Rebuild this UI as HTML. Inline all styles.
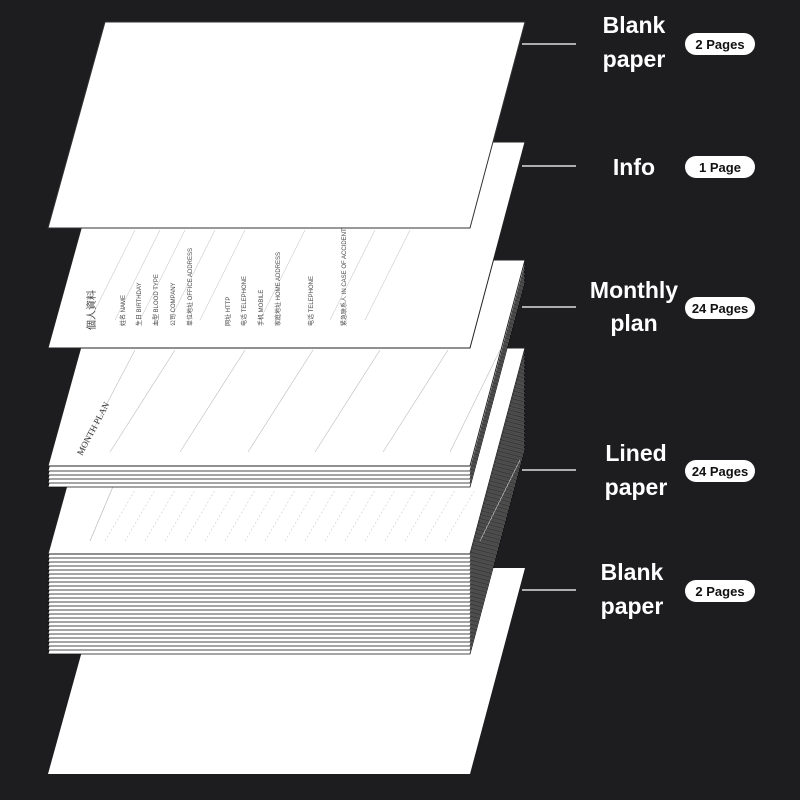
<!DOCTYPE html>
<html><head><meta charset="utf-8"><style>
html,body{margin:0;padding:0;background:#1d1d20;}
svg{display:block}
.l{font-family:"Liberation Sans",sans-serif;font-weight:bold;fill:#fff;font-size:23px;text-anchor:middle}
.p{font-family:"Liberation Sans",sans-serif;font-weight:bold;fill:#111;font-size:13px;text-anchor:middle}
</style></head><body>
<svg width="800" height="800" viewBox="0 0 800 800" xmlns="http://www.w3.org/2000/svg">
<rect width="800" height="800" fill="#1d1d20"/>
<defs>
<polygon id="sh" points="105,0 525,0 470,206 48,206"/>
</defs>
<use href="#sh" y="568" fill="#fff"/>
<g stroke="#111" stroke-width="0.8" fill="#fff">
<use href="#sh" y="448"/><use href="#sh" y="444"/><use href="#sh" y="440"/><use href="#sh" y="436"/><use href="#sh" y="432"/>
<use href="#sh" y="428"/><use href="#sh" y="424"/><use href="#sh" y="420"/><use href="#sh" y="416"/><use href="#sh" y="412"/>
<use href="#sh" y="408"/><use href="#sh" y="404"/><use href="#sh" y="400"/><use href="#sh" y="396"/><use href="#sh" y="392"/>
<use href="#sh" y="388"/><use href="#sh" y="384"/><use href="#sh" y="380"/><use href="#sh" y="376"/><use href="#sh" y="372"/>
<use href="#sh" y="368"/><use href="#sh" y="364"/><use href="#sh" y="360"/><use href="#sh" y="356"/><use href="#sh" y="352"/>
</g>
<use href="#sh" y="348" fill="#fff" stroke="#222" stroke-width="1"/>
<g stroke="#bbb" stroke-width="0.7">
<line x1="90" y1="541" x2="120" y2="470"/><line x1="520" y1="460" x2="480" y2="541"/>
</g>
<g stroke="#ccc" stroke-width="0.6" stroke-dasharray="2,2">
<line x1="105" y1="541" x2="135" y2="490"/><line x1="125" y1="541" x2="155" y2="490"/><line x1="145" y1="541" x2="175" y2="490"/><line x1="165" y1="541" x2="195" y2="490"/><line x1="185" y1="541" x2="215" y2="490"/><line x1="205" y1="541" x2="235" y2="490"/><line x1="225" y1="541" x2="255" y2="490"/><line x1="245" y1="541" x2="275" y2="490"/><line x1="265" y1="541" x2="295" y2="490"/><line x1="285" y1="541" x2="315" y2="490"/><line x1="305" y1="541" x2="335" y2="490"/><line x1="325" y1="541" x2="355" y2="490"/><line x1="345" y1="541" x2="375" y2="490"/><line x1="365" y1="541" x2="395" y2="490"/><line x1="385" y1="541" x2="415" y2="490"/><line x1="405" y1="541" x2="435" y2="490"/><line x1="425" y1="541" x2="455" y2="490"/><line x1="445" y1="541" x2="475" y2="490"/>
</g>
<g stroke="#111" stroke-width="0.8" fill="#fff">
<use href="#sh" y="281"/><use href="#sh" y="277"/><use href="#sh" y="273"/><use href="#sh" y="269"/><use href="#sh" y="265"/>
</g>
<use href="#sh" y="260" fill="#fff" stroke="#222" stroke-width="1"/>
<g stroke="#bbb" stroke-width="0.6">
<line x1="80" y1="455" x2="135" y2="350"/>
<line x1="110" y1="452" x2="175" y2="350"/><line x1="180" y1="452" x2="245" y2="350"/><line x1="248" y1="452" x2="313" y2="350"/><line x1="315" y1="452" x2="380" y2="350"/><line x1="383" y1="452" x2="448" y2="350"/><line x1="450" y1="452" x2="500" y2="350"/>
</g>
<text x="0" y="0" transform="translate(82,456) rotate(-62)" font-family="Liberation Serif,serif" font-size="9" fill="#333">MONTH PLAN</text>
<use href="#sh" y="142" fill="#fff" stroke="#222" stroke-width="1"/>
<g stroke="#ccc" stroke-width="0.6">
<line x1="90" y1="320" x2="135" y2="230"/><line x1="115" y1="320" x2="160" y2="230"/><line x1="140" y1="320" x2="185" y2="230"/><line x1="170" y1="320" x2="215" y2="230"/><line x1="200" y1="320" x2="245" y2="230"/><line x1="260" y1="320" x2="305" y2="230"/><line x1="330" y1="320" x2="375" y2="230"/><line x1="365" y1="320" x2="410" y2="230"/>
</g>
<g font-family="Liberation Sans,sans-serif" font-size="6" fill="#444">
<text transform="translate(125,326) rotate(-90)">姓名 NAME</text>
<text transform="translate(141,326) rotate(-90)">生日 BIRTHDAY</text>
<text transform="translate(158,326) rotate(-90)">血型 BLOOD TYPE</text>
<text transform="translate(175,326) rotate(-90)">公司 COMPANY</text>
<text transform="translate(192,326) rotate(-90)">单位地址 OFFICE ADDRESS</text>
<text transform="translate(230,326) rotate(-90)">网址 HTTP</text>
<text transform="translate(246,326) rotate(-90)">电话 TELEPHONE</text>
<text transform="translate(263,326) rotate(-90)">手机 MOBILE</text>
<text transform="translate(280,326) rotate(-90)">家庭地址 HOME ADDRESS</text>
<text transform="translate(313,326) rotate(-90)">电话 TELEPHONE</text>
<text transform="translate(346,326) rotate(-90)">紧急联系人 IN CASE OF ACCIDENT</text>
<text transform="translate(95,330) rotate(-90)" font-size="10">個人資料</text>
</g>
<polygon points="105,22 525,22 470,228 48,228" fill="#fff" stroke="#333" stroke-width="1"/>
<g stroke="#ddd" stroke-width="1.5">
<line x1="522" y1="44" x2="576" y2="44"/><line x1="522" y1="166" x2="576" y2="166"/><line x1="522" y1="307" x2="576" y2="307"/><line x1="522" y1="470" x2="576" y2="470"/><line x1="522" y1="590" x2="576" y2="590"/>
</g>
<text class="l" x="634" y="33">Blank</text><text class="l" x="634" y="67">paper</text>
<text class="l" x="634" y="175">Info</text>
<text class="l" x="634" y="298">Monthly</text><text class="l" x="634" y="331">plan</text>
<text class="l" x="636" y="461">Lined</text><text class="l" x="636" y="495">paper</text>
<text class="l" x="632" y="580">Blank</text><text class="l" x="632" y="614">paper</text>
<g fill="#fff">
<rect x="685" y="33" width="70" height="22" rx="11"/><rect x="685" y="156" width="70" height="22" rx="11"/>
<rect x="685" y="297" width="70" height="22" rx="11"/><rect x="685" y="460" width="70" height="22" rx="11"/>
<rect x="685" y="580" width="70" height="22" rx="11"/>
</g>
<text class="p" x="720" y="49">2 Pages</text><text class="p" x="720" y="172">1 Page</text>
<text class="p" x="720" y="313">24 Pages</text><text class="p" x="720" y="476">24 Pages</text>
<text class="p" x="720" y="596">2 Pages</text>
</svg>
</body></html>
